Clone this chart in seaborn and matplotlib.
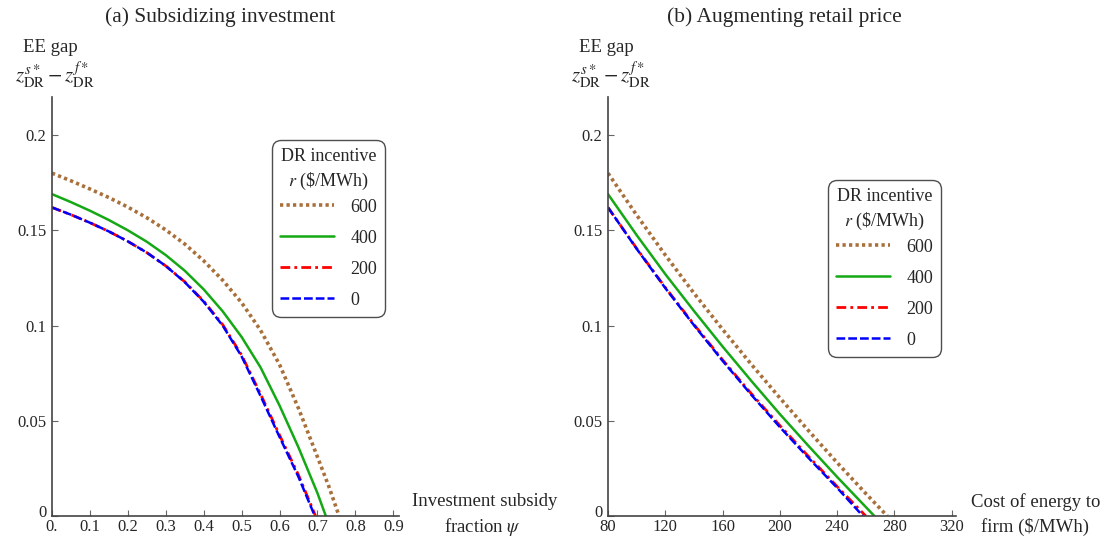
import numpy as np
import pandas as pd
import matplotlib
matplotlib.use("Agg")
import matplotlib.pyplot as plt
import matplotlib.transforms as mtransforms
import seaborn as sns

# ---------------- data ----------------
incentives = ["600", "400", "200", "0"]

# Panel (a): investment subsidy fraction psi
psi_600 = [0.0, 0.05, 0.1, 0.15, 0.2, 0.25, 0.3, 0.35, 0.4, 0.45, 0.5, 0.55, 0.6, 0.65, 0.7, 0.73, 0.757]
gap_a_600 = [0.180, 0.1760, 0.1717, 0.1672, 0.1622, 0.1566, 0.1502, 0.1428, 0.1340, 0.1238, 0.1120,
             0.0975, 0.0795, 0.0565, 0.0310, 0.0155, 0.0]
psi_400 = [0.0, 0.05, 0.1, 0.15, 0.2, 0.25, 0.3, 0.35, 0.4, 0.45, 0.5, 0.55, 0.6, 0.65, 0.7, 0.722]
gap_a_400 = [0.169, 0.1648, 0.1603, 0.1554, 0.1500, 0.1440, 0.1370, 0.1288, 0.1190, 0.1075, 0.0940,
             0.0780, 0.0580, 0.0360, 0.0120, 0.0]
psi_200 = [0.0, 0.05, 0.1, 0.15, 0.2, 0.25, 0.3, 0.35, 0.4, 0.45, 0.5, 0.55, 0.6, 0.65, 0.695]
gap_a_200 = [0.162, 0.1582, 0.1540, 0.1494, 0.1442, 0.1383, 0.1313, 0.1230, 0.1128, 0.1005, 0.0845,
             0.0640, 0.0425, 0.0215, 0.0]
psi_0 = [0.0, 0.05, 0.1, 0.15, 0.2, 0.25, 0.3, 0.35, 0.4, 0.45, 0.5, 0.55, 0.6, 0.65, 0.693]
gap_a_0 = [0.162, 0.1582, 0.1540, 0.1494, 0.1442, 0.1383, 0.1313, 0.1228, 0.1125, 0.1000, 0.0838,
           0.0630, 0.0415, 0.0205, 0.0]

# Panel (b): cost of energy to firm ($/MWh)
cost_600 = [80, 100, 120, 140, 160, 180, 200, 220, 240, 260, 275]
gap_b_600 = [0.180, 0.1580, 0.1370, 0.1170, 0.0980, 0.0797, 0.0620, 0.0448, 0.0280, 0.0118, 0.0]
cost_400 = [80, 100, 120, 140, 160, 180, 200, 220, 240, 266]
gap_b_400 = [0.169, 0.1475, 0.1270, 0.1077, 0.0890, 0.0710, 0.0535, 0.0368, 0.0205, 0.0]
cost_200 = [80, 100, 120, 140, 160, 180, 200, 220, 240, 260]
gap_b_200 = [0.162, 0.1405, 0.1200, 0.1006, 0.0820, 0.0643, 0.0475, 0.0313, 0.0155, 0.0]
cost_0 = [80, 100, 120, 140, 160, 180, 200, 220, 240, 258]
gap_b_0 = [0.162, 0.1403, 0.1197, 0.1002, 0.0815, 0.0637, 0.0467, 0.0305, 0.0148, 0.0]

xticks_a = [0.0, 0.1, 0.2, 0.3, 0.4, 0.5, 0.6, 0.7, 0.8, 0.9]
xticklabels_a = ["0.", "0.1", "0.2", "0.3", "0.4", "0.5", "0.6", "0.7", "0.8", "0.9"]
xticks_b = [80, 120, 160, 200, 240, 280, 320]
yticks = [0, 0.05, 0.1, 0.15, 0.2]
yticklabels = ["0", "0.05", "0.1", "0.15", "0.2"]

# ---------------- style ----------------
sns.set_theme(style="white")
plt.rcParams["font.family"] = ["Liberation Serif", "DejaVu Serif"]
plt.rcParams["mathtext.fontset"] = "stix"

styles = {
    "600": dict(color="#A8703A", linestyle=(0, (0.9, 0.9)), linewidth=2.6),
    "400": dict(color="#14A814", linestyle="-", linewidth=1.8),
    "200": dict(color="#FF0000", linestyle=(0, (3.5, 1.5, 1, 1.5)), linewidth=2.0),
    "0": dict(color="#0000FF", linestyle=(0, (3.5, 1.2)), linewidth=1.8),
}

fig = plt.figure(figsize=(11.07, 5.38), dpi=100)
ax_a = fig.add_axes([52 / 1107, 22 / 538, 347 / 1107, 419 / 538])
ax_b = fig.add_axes([608 / 1107, 22 / 538, 348 / 1107, 419 / 538])

series_a = {"600": (psi_600, gap_a_600), "400": (psi_400, gap_a_400),
            "200": (psi_200, gap_a_200), "0": (psi_0, gap_a_0)}
series_b = {"600": (cost_600, gap_b_600), "400": (cost_400, gap_b_400),
            "200": (cost_200, gap_b_200), "0": (cost_0, gap_b_0)}

for ax, series in [(ax_a, series_a), (ax_b, series_b)]:
    for key in incentives:
        xs, ys = series[key]
        sns.lineplot(x=xs, y=ys, ax=ax, label=key, sort=False,
                     estimator=None, **styles[key])

for ax in (ax_a, ax_b):
    ax.set_ylim(0, 0.22)
    ax.set_yticks(yticks)
    ax.set_yticklabels(yticklabels)
    for side in ("top", "right"):
        ax.spines[side].set_visible(False)
    for side in ("left", "bottom"):
        ax.spines[side].set_color("#444444")
        ax.spines[side].set_linewidth(1.2)
    ax.tick_params(direction="in", length=4, width=0.8, color="#666666",
                   labelsize=12, left=True, bottom=True)
    ax.tick_params(axis="x", pad=2.5)
    ax.tick_params(axis="y", pad=4)
    ax.set_xlabel("")
    ax.set_ylabel("")

ax_a.set_xlim(0, 0.915)
ax_a.set_xticks(xticks_a)
ax_a.set_xticklabels(xticklabels_a)
ax_b.set_xlim(80, 323)
ax_b.set_xticks(xticks_b)
ax_b.set_xticklabels([str(v) for v in xticks_b])

# lift the "0" y tick label slightly so it sits above the first x tick label
for ax in (ax_a, ax_b):
    lbl = ax.get_yticklabels()[0]
    lbl.set_transform(lbl.get_transform() + mtransforms.ScaledTranslation(0, 5 / 100, fig.dpi_scale_trans))

# titles
fig.text(220 / 1107, 1 - 17 / 538, "(a) Subsidizing investment", ha="center", va="center", fontsize=15.5)
fig.text(784 / 1107, 1 - 17 / 538, "(b) Augmenting retail price", ha="center", va="center", fontsize=15.5)

# y labels
for x0 in (50, 606):
    fig.text(x0 / 1107, 1 - 47 / 538, "EE gap", ha="center", va="center", fontsize=13.5)
    fig.text((x0 + 5) / 1107, 1 - 75 / 538, r"$z_{\mathrm{DR}}^{s*} - z_{\mathrm{DR}}^{f*}$",
             ha="center", va="center", fontsize=15)

# x labels
fig.text(485 / 1107, 1 - 502 / 538, "Investment subsidy", ha="center", va="center", fontsize=13.5)
fig.text(483 / 1107, 1 - 527 / 538, r"fraction $\psi$", ha="center", va="center", fontsize=13.5)
fig.text(1036 / 1107, 1 - 502 / 538, "Cost of energy to", ha="center", va="center", fontsize=13.5)
fig.text(1035 / 1107, 1 - 527 / 538, "firm ($/MWh)", ha="center", va="center", fontsize=13.5)

# legends
for ax, (lx, ly) in [(ax_a, (272, 140)), (ax_b, (828, 180))]:
    leg = ax.legend(title="DR incentive\n" + r"$r$ (\$/MWh)", loc="upper left",
                    bbox_to_anchor=(lx / 1107, 1 - ly / 538), bbox_transform=fig.transFigure,
                    borderaxespad=0, fontsize=13, title_fontsize=13, frameon=True,
                    fancybox=True, handlelength=3.0, handletextpad=0.9,
                    labelspacing=0.78, borderpad=0.45)
    leg._legend_box.sep = 4.5  # tighter gap between title and entries
    leg.get_frame().set_edgecolor("#222222")
    leg.get_frame().set_linewidth(1.0)
    leg.get_frame().set_boxstyle("round", pad=0.0, rounding_size=0.5)
    leg.get_title().set_multialignment("center")
    leg.get_title().set_linespacing(1.4)

fig.savefig("out.png", dpi=100)
